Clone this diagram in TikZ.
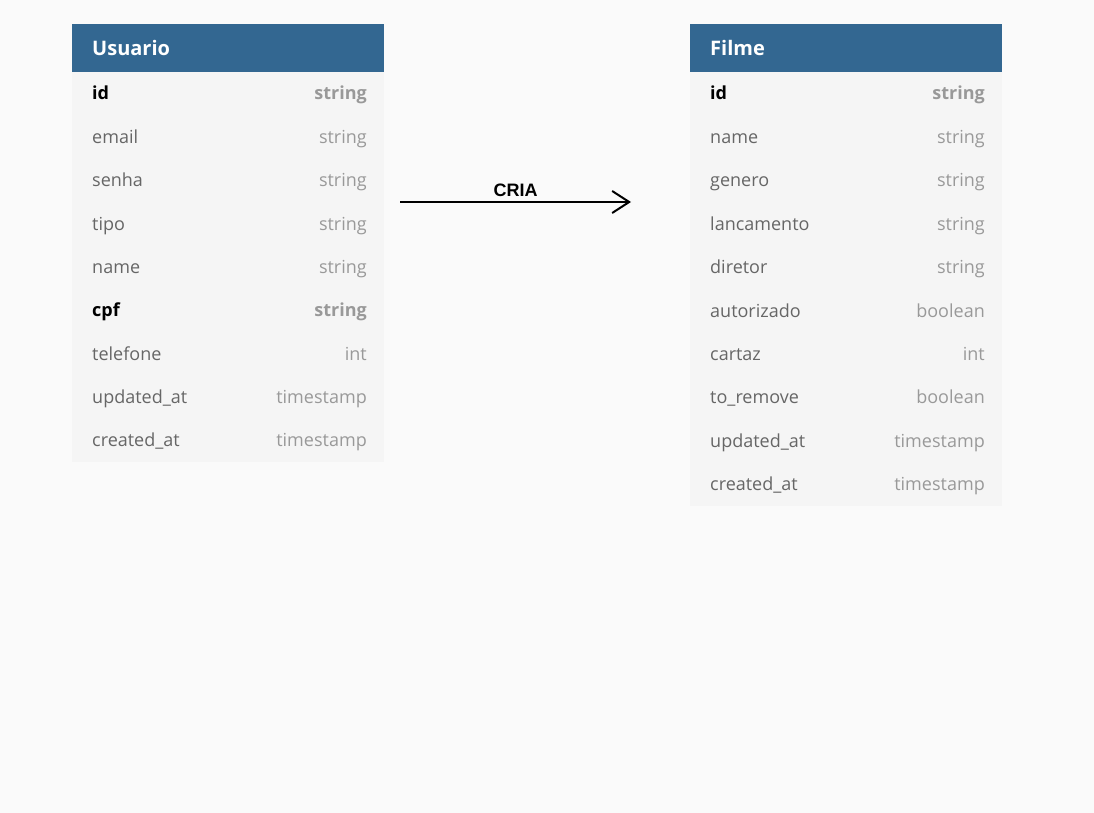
\documentclass[tikz,border=0pt]{standalone}
\usepackage{fontspec}
\setmainfont{Open Sans}
\newfontfamily\criafont{Liberation Sans}
\usetikzlibrary{arrows.meta}
\definecolor{pagebg}{HTML}{FAFAFA}
\definecolor{headbg}{HTML}{336791}
\definecolor{rowbg}{HTML}{F5F5F5}
\definecolor{namegray}{HTML}{666666}
\definecolor{typegray}{HTML}{999999}
\tikzset{
  tablehead/.style={anchor=north west, fill=headbg, text=white, font=\fontsize{20}{24}\selectfont\bfseries,
    minimum width=312pt, minimum height=48pt, inner xsep=20pt, text width=272pt, align=left},
  rowname/.style={anchor=base west, text=namegray, font=\fontsize{18}{21}\selectfont, inner sep=0pt},
  rowtype/.style={anchor=base east, text=typegray, font=\fontsize{18}{21}\selectfont, inner sep=0pt},
  keyfield/.style={font=\fontsize{18}{21}\selectfont\bfseries},
  datafield/.style={},
  keyname/.style={text=black},
  dataname/.style={},
  cria/.style={line width=2pt, -{Straight Barb[length=17pt,width=22pt,line width=2pt]}}
}
\begin{document}
\begin{tikzpicture}[x=1pt,y=-1pt]
% page
\fill [pagebg] (0,0) rectangle (1094,813);
\useasboundingbox (0,0) rectangle (1094,813);

% Usuario
\fill [rowbg] (72,72) rectangle (384,462);
\node [tablehead] (usuario) at (72,24) {Usuario};
\foreach \nm/\tp/\st [count=\i] in {id/string/key, email/string/data, senha/string/data,
    tipo/string/data, name/string/data, cpf/string/key, telefone/int/data,
    updated\_at/timestamp/data, created\_at/timestamp/data}
{
  \node [rowname,\st field,\st name] (u-name-\i) at (92,{72+43.35*(\i-0.5)+6.3}) {\nm};
  \node [rowtype,\st field] (u-type-\i) at (367,{72+43.35*(\i-0.5)+6.3}) {\tp};
}

% Filme
\fill [rowbg] (690,72) rectangle (1002,506);
\node [tablehead] (filme) at (690,24) {Filme};
\foreach \nm/\tp/\st [count=\i] in {id/string/key, name/string/data, genero/string/data,
    lancamento/string/data, diretor/string/data, autorizado/boolean/data, cartaz/int/data,
    to\_remove/boolean/data, updated\_at/timestamp/data, created\_at/timestamp/data}
{
  \node [rowname,\st field,\st name] (f-name-\i) at (710,{72+43.4*(\i-0.5)+6.3}) {\nm};
  \node [rowtype,\st field] (f-type-\i) at (985,{72+43.4*(\i-0.5)+6.3}) {\tp};
}

% relation
\coordinate (criaA) at (400,202);
\coordinate (criaB) at (631,202);
\draw [cria] (criaA) -- node [above=1pt, font=\criafont\fontsize{18}{21}\selectfont\bfseries] {CRIA} (criaB);
\end{tikzpicture}
\end{document}
